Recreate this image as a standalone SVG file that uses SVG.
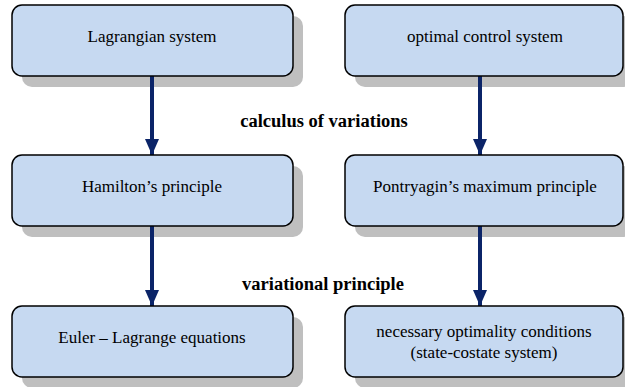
<svg xmlns="http://www.w3.org/2000/svg" width="625" height="387" viewBox="0 0 625 387">
  <defs>
    <style>
      .shadow { fill: #bfbfbf; }
      .box { fill: #c6d9f1; stroke: #000000; stroke-width: 1.5; }
      .txt { font-family: 'Liberation Serif', Tinos, 'Times New Roman', 'DejaVu Serif', serif; font-size: 17px; fill: #000000; text-anchor: middle; }
      .lbl { font-family: 'Liberation Serif', Tinos, 'Times New Roman', 'DejaVu Serif', serif; font-size: 18.5px; font-weight: bold; fill: #000000; text-anchor: middle; }
      .conn { stroke: #0b2468; stroke-width: 4; fill: none; }
    </style>
    <marker id="ah" markerUnits="userSpaceOnUse" markerWidth="16" markerHeight="14" refX="16" refY="7" orient="auto">
      <path d="M0,0 L16,7 L0,14 Z" fill="#0b2468"/>
    </marker>
  </defs>

  <g id="shadows">
    <rect class="shadow" x="22" y="16" width="281" height="71" rx="10"/>
    <rect class="shadow" x="355" y="16" width="278" height="71" rx="10"/>
    <rect class="shadow" x="22" y="166" width="281" height="71" rx="10"/>
    <rect class="shadow" x="355" y="166" width="278" height="71" rx="10"/>
    <rect class="shadow" x="22" y="317" width="281" height="71" rx="10"/>
    <rect class="shadow" x="355" y="317" width="278" height="71" rx="10"/>
  </g>

  <g id="connectors">
    <line class="conn" x1="152" y1="76" x2="152" y2="155" marker-end="url(#ah)"/>
    <line class="conn" x1="480" y1="76" x2="480" y2="155" marker-end="url(#ah)"/>
    <line class="conn" x1="152" y1="226" x2="152" y2="306" marker-end="url(#ah)"/>
    <line class="conn" x1="480" y1="226" x2="480" y2="306" marker-end="url(#ah)"/>
    <text class="lbl" x="324" y="127">calculus of variations</text>
    <text class="lbl" x="323" y="290">variational principle</text>
  </g>

  <g id="lagrangian">
    <rect class="box" x="12" y="5" width="281" height="71" rx="10"/>
    <text class="txt" x="152" y="42">Lagrangian system</text>
  </g>
  <g id="optimal">
    <rect class="box" x="345" y="5" width="278" height="71" rx="10"/>
    <text class="txt" x="485" y="42">optimal control system</text>
  </g>
  <g id="hamilton">
    <rect class="box" x="12" y="155" width="281" height="71" rx="10"/>
    <text class="txt" x="152" y="192">Hamilton’s principle</text>
  </g>
  <g id="pontryagin">
    <rect class="box" x="345" y="155" width="278" height="71" rx="10"/>
    <text class="txt" x="485" y="192">Pontryagin’s maximum principle</text>
  </g>
  <g id="euler">
    <rect class="box" x="12" y="306" width="281" height="71" rx="10"/>
    <text class="txt" x="152" y="343">Euler – Lagrange equations</text>
  </g>
  <g id="necessary">
    <rect class="box" x="345" y="306" width="278" height="71" rx="10"/>
    <text class="txt" x="484" y="337">necessary optimality conditions</text>
    <text class="txt" x="484" y="358">(state-costate system)</text>
  </g>
</svg>
